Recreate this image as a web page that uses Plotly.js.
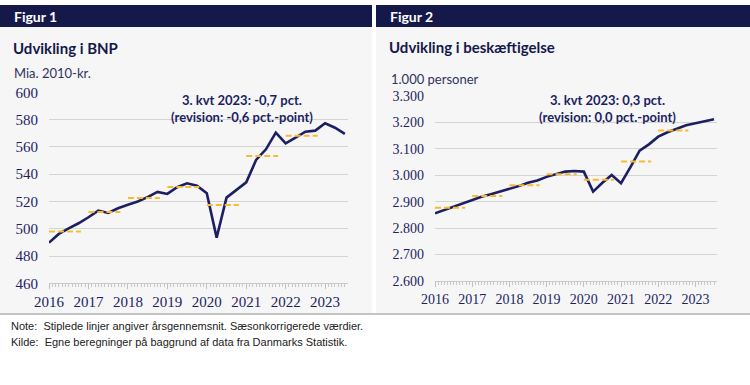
<!DOCTYPE html>
<html>
<head>
<meta charset="utf-8">
<script src="https://cdn.plot.ly/plotly-3.0.1.min.js"></script>
<style>
html,body{margin:0;padding:0;background:#fff;}
#chart{width:750px;height:385px;}
</style>
</head>
<body>
<div id="chart"></div>
<script>
// Quarter labels (2016K1 ... 2023K3)
const quarters = ["2016K1","2016K2","2016K3","2016K4","2017K1","2017K2","2017K3","2017K4",
  "2018K1","2018K2","2018K3","2018K4","2019K1","2019K2","2019K3","2019K4",
  "2020K1","2020K2","2020K3","2020K4","2021K1","2021K2","2021K3","2021K4",
  "2022K1","2022K2","2022K3","2022K4","2023K1","2023K2","2023K3"];
// Figur 1: BNP, mia. 2010-kr.
const bnp = [489.8, 496.2, 500.3, 504.0, 508.4, 513.3, 511.6, 515.0,
  517.6, 520.0, 523.2, 527.0, 525.5, 530.4, 533.3, 531.5,
  526.0, 493.5, 522.8, 528.4, 534.0, 550.4, 558.2, 570.4,
  562.6, 566.7, 571.1, 571.9, 577.3, 574.0, 569.5];
// Figur 2: Beskæftigelse, 1.000 personer
const emp = [2856, 2869, 2883, 2895, 2909, 2919, 2928, 2938,
  2947, 2959, 2972, 2980, 2994, 3005, 3014, 3016,
  3014, 2938, 2972, 3001, 2970, 3030, 3093, 3117,
  3146, 3163, 3175, 3189, 3197, 3204, 3212];
// Annual averages (dashed)
const avgYears = [2016, 2017, 2018, 2019, 2020, 2021, 2022];
const bnpAvg = [498.0, 512.3, 522.6, 530.6, 517.4, 553.3, 568.2];
const empAvg = [2877, 2922, 2962, 3004, 2983, 3052, 3169];
// Tick labels
const yearTicks = [2016, 2017, 2018, 2019, 2020, 2021, 2022, 2023];
const bnpTicks = [460, 480, 500, 520, 540, 560, 580, 600];
const empTicks = [2600, 2700, 2800, 2900, 3000, 3100, 3200, 3300];

const W = 750, H = 385;
const px = v => v / W;
const py = v => 1 - v / H;
const qx = quarters.map(q => parseInt(q.slice(0,4)) + (parseInt(q.slice(5)) - 1) / 4);

const NAVY = '#1c1f63';
const DARK = '#14194a';
const ORANGE = '#f8bb2b';
const GRID = '#d4d4d4';

const traces = [];
traces.push({x: qx, y: bnp, xaxis: 'x', yaxis: 'y', type: 'scatter', mode: 'lines',
  line: {color: NAVY, width: 2.6}, hoverinfo: 'skip'});
traces.push({x: qx, y: emp, xaxis: 'x2', yaxis: 'y2', type: 'scatter', mode: 'lines',
  line: {color: NAVY, width: 2.6}, hoverinfo: 'skip'});
avgYears.forEach((yr, i) => {
  traces.push({x: [yr, yr + 0.81], y: [bnpAvg[i], bnpAvg[i]], xaxis: 'x', yaxis: 'y',
    type: 'scatter', mode: 'lines', line: {color: ORANGE, width: 2, dash: '6px,3px'}, hoverinfo: 'skip'});
  traces.push({x: [yr, yr + 0.81], y: [empAvg[i], empAvg[i]], xaxis: 'x2', yaxis: 'y2',
    type: 'scatter', mode: 'lines', line: {color: ORANGE, width: 2, dash: '6px,3px'}, hoverinfo: 'skip'});
});

const tickFont = {family: 'Liberation Serif', size: 15, color: NAVY};
const tickFont2 = {family: 'Liberation Serif', size: 14, color: NAVY};

function xAx(domain, font, anchor) {
  return {domain: domain, anchor: anchor, range: [2016, 2023.58], tickvals: yearTicks, ticktext: yearTicks.map(String),
    showgrid: false, zeroline: false, showline: true, linecolor: '#c9c9c9', linewidth: 1,
    ticks: 'outside', ticklen: 5, tickcolor: '#c0c0c0', tickwidth: 1,
    minor: {dtick: 1/12, tick0: 2016, ticks: 'outside', ticklen: 3, tickcolor: '#c8c8c8', tickwidth: 1, showgrid: false},
    tickfont: font, fixedrange: true};
}
function yAx(domain, range, vals, font, anchor) {
  return {domain: domain, anchor: anchor, range: range, tickvals: vals, tickformat: ',d',
    showgrid: true, gridcolor: GRID, gridwidth: 1, zeroline: false, showline: false,
    ticks: '', ticklabelstandoff: 10, tickfont: font, fixedrange: true};
}

const titleFont = {family: 'Lato, Noto Sans, sans-serif', size: 15, color: DARK};
const noteFont = {family: "'Liberation Sans Narrow', 'Liberation Sans', sans-serif", size: 11, color: '#222222'};
const layout = {
  width: W, height: H,
  margin: {l: 0, r: 0, t: 0, b: 0},
  paper_bgcolor: '#ffffff',
  plot_bgcolor: 'rgba(0,0,0,0)',
  showlegend: false,
  separators: ',.',
  xaxis: xAx([px(49), px(348)], tickFont, 'y'),
  yaxis: yAx([py(283.3), py(92.3)], [460, 600], bnpTicks, tickFont, 'x'),
  xaxis2: xAx([px(435), px(717)], tickFont2, 'y2'),
  yaxis2: yAx([py(281), py(96)], [2600, 3300], empTicks, tickFont2, 'x2'),
  shapes: [
    {type: 'rect', xref: 'paper', yref: 'paper', x0: 0, x1: px(372), y0: py(313), y1: py(27), fillcolor: '#f6f6f6', line: {width: 0}, layer: 'below'},
    {type: 'rect', xref: 'paper', yref: 'paper', x0: px(376), x1: 1, y0: py(313), y1: py(27), fillcolor: '#f6f6f6', line: {width: 0}, layer: 'below'},
    {type: 'rect', xref: 'paper', yref: 'paper', x0: 0, x1: px(372), y0: py(27), y1: py(5), fillcolor: DARK, line: {width: 0}, layer: 'below'},
    {type: 'rect', xref: 'paper', yref: 'paper', x0: px(376), x1: 1, y0: py(27), y1: py(5), fillcolor: DARK, line: {width: 0}, layer: 'below'},
    {type: 'line', xref: 'paper', yref: 'paper', x0: 0, x1: 1, y0: py(314), y1: py(314), line: {color: '#c4c4c4', width: 2}, layer: 'below'}
  ],
  annotations: [
    {xref: 'paper', yref: 'paper', x: px(12), y: py(16.5), xanchor: 'left', yanchor: 'middle', showarrow: false,
      text: '<b>Figur 1</b>', font: {family: 'Lato, Noto Sans, sans-serif', size: 14, color: '#ffffff'}},
    {xref: 'paper', yref: 'paper', x: px(388), y: py(16.5), xanchor: 'left', yanchor: 'middle', showarrow: false,
      text: '<b>Figur 2</b>', font: {family: 'Lato, Noto Sans, sans-serif', size: 14, color: '#ffffff'}},
    {xref: 'paper', yref: 'paper', x: px(11), y: py(48), xanchor: 'left', yanchor: 'middle', showarrow: false,
      text: '<b>Udvikling i BNP</b>', font: titleFont},
    {xref: 'paper', yref: 'paper', x: px(387), y: py(47), xanchor: 'left', yanchor: 'middle', showarrow: false,
      text: '<b>Udvikling i beskæftigelse</b>', font: titleFont},
    {xref: 'paper', yref: 'paper', x: px(12), y: py(73), xanchor: 'left', yanchor: 'middle', showarrow: false,
      text: 'Mia. 2010-kr.', font: {family: 'Lato, Noto Sans, sans-serif', size: 13, color: '#30345f'}},
    {xref: 'paper', yref: 'paper', x: px(389), y: py(79), xanchor: 'left', yanchor: 'middle', showarrow: false,
      text: '1.000 personer', font: {family: 'Lato, Noto Sans, sans-serif', size: 13, color: '#30345f'}},
    {xref: 'paper', yref: 'paper', x: px(241.5), y: py(108.5), xanchor: 'center', yanchor: 'middle', showarrow: false,
      text: '<b>3. kvt 2023: -0,7 pct.<br>(revision: -0,6 pct.-point)</b>', align: 'center',
      font: {family: 'Lato, Noto Sans, sans-serif', size: 13, color: NAVY}},
    {xref: 'paper', yref: 'paper', x: px(607), y: py(108), xanchor: 'center', yanchor: 'middle', showarrow: false,
      text: '<b>3. kvt 2023: 0,3 pct.<br>(revision: 0,0 pct.-point)</b>', align: 'center',
      font: {family: 'Lato, Noto Sans, sans-serif', size: 13, color: NAVY}},
    {xref: 'paper', yref: 'paper', x: px(9), y: py(326), xanchor: 'left', yanchor: 'middle', showarrow: false,
      text: 'Note:  Stiplede linjer angiver årsgennemsnit. Sæsonkorrigerede værdier.', font: noteFont},
    {xref: 'paper', yref: 'paper', x: px(9), y: py(342), xanchor: 'left', yanchor: 'middle', showarrow: false,
      text: 'Kilde:  Egne beregninger på baggrund af data fra Danmarks Statistik.', font: noteFont}
  ]
};

Plotly.newPlot('chart', traces, layout, {staticPlot: true, displayModeBar: false});
</script>
</body>
</html>
